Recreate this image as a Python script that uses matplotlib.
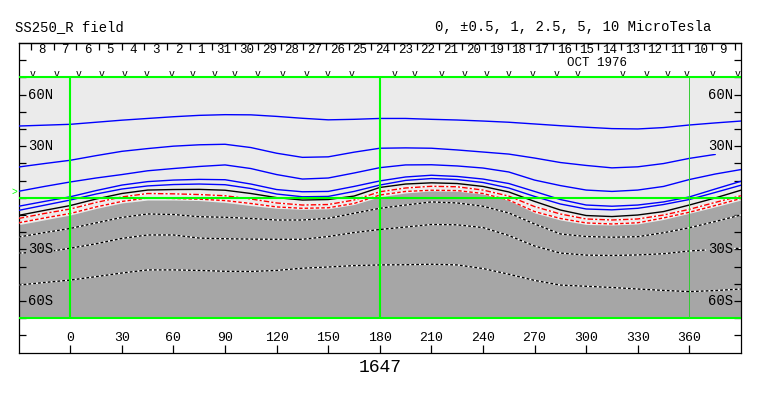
import matplotlib
matplotlib.use('Agg')
import matplotlib.pyplot as plt
import matplotlib.transforms as mtransforms
import numpy as np

plt.rcParams['font.family'] = ['Liberation Mono', 'DejaVu Sans Mono']

# Carrington rotation 1647, source surface field (latitude of each contour)
lon = np.arange(-30, 391, 15)

pos_10 = [41.7, 42.2, 42.7, 43.9, 45.1, 46.1, 47.1, 47.9, 48.3, 48.2, 47.3, 46.2, 45.3, 45.6, 46.1,
          46.1, 45.6, 45.2, 44.6, 43.9, 42.9, 41.9, 41.0, 40.2, 40.0, 40.8, 42.3, 43.5, 44.6]
pos_5 = [17.9, 19.9, 21.8, 24.5, 27.0, 28.6, 30.0, 30.8, 31.1, 29.2, 25.9, 23.5, 23.8, 26.5, 28.8,
         29.0, 28.8, 27.8, 26.6, 25.4, 23.1, 20.5, 18.8, 17.4, 18.0, 19.9, 22.9, 25.2, np.nan]
pos_2_5 = [3.8, 6.6, 9.2, 11.5, 13.5, 15.7, 17.0, 18.2, 19.1, 17.0, 13.5, 10.9, 11.5, 14.4, 17.5,
           19.1, 19.2, 18.5, 17.3, 15.0, 10.3, 7.1, 4.5, 3.7, 4.5, 6.6, 10.6, 13.8, 16.4]
pos_1 = [-4.9, -2.1, 0.6, 4.2, 7.4, 9.4, 10.3, 10.7, 10.5, 8.0, 4.8, 3.5, 3.7, 6.6, 9.8,
         12.1, 13.1, 12.4, 10.9, 8.3, 3.7, -1.0, -4.2, -4.9, -4.2, -2.4, 0.5, 5.1, 9.6]
pos_0_5 = [-7.3, -4.3, -1.3, 2.2, 5.1, 6.9, 7.7, 8.0, 7.6, 5.4, 2.2, 0.6, 0.8, 3.7, 7.4,
           10.1, 11.2, 10.6, 8.9, 5.7, 0.8, -3.6, -6.5, -7.0, -6.1, -3.9, -1.0, 3.1, 7.3]
neutral = [-10.2, -7.3, -4.5, -0.7, 2.5, 4.5, 4.8, 4.9, 4.4, 2.5, 0.1, -1.3, -1.0, 1.0, 6.0,
           8.0, 8.7, 8.3, 6.6, 3.4, -2.1, -7.1, -10.3, -10.9, -10.0, -8.0, -4.2, -0.1, 4.4]
neg_0_5 = [-12.0, -9.1, -6.5, -2.7, 0.5, 2.5, 2.3, 1.9, 1.2, -0.7, -3.0, -4.2, -3.9, -1.3, 3.5,
           5.7, 6.7, 6.4, 4.5, 1.0, -5.1, -9.4, -12.3, -12.9, -12.3, -10.0, -6.7, -2.7, 1.2]
neg_1 = [-14.5, -11.7, -9.1, -5.3, -2.1, -0.1, -0.4, -0.8, -1.6, -3.3, -5.3, -6.1, -5.8, -3.3, 1.6,
         3.7, 4.4, 4.2, 2.5, -1.3, -8.0, -12.0, -14.6, -15.2, -14.5, -11.7, -8.4, -4.5, -0.4]
neg_edge = [-15.6, -12.8, -10.0, -6.2, -3.0, -1.3, -1.3, -1.6, -2.7, -4.5, -6.1, -6.7, -6.4, -3.9, 0.6,
            2.8, 4.0, 3.8, 2.2, -1.3, -8.8, -12.9, -15.5, -15.8, -15.2, -12.6, -9.0, -5.3, -1.3]
neg_2_5 = [-22.8, -20.2, -17.8, -14.6, -11.4, -9.4, -9.7, -11.0, -11.3, -12.0, -12.9, -12.9, -11.9, -9.0, -6.1,
           -4.2, -2.4, -3.0, -4.9, -8.8, -15.2, -21.0, -22.5, -22.9, -22.6, -20.3, -17.4, -13.8, -10.0]
neg_5 = [-32.1, -31.6, -29.3, -26.7, -23.6, -21.6, -21.6, -23.4, -23.8, -24.0, -24.1, -24.1, -22.5, -20.2, -18.4,
         -17.0, -15.5, -15.7, -17.3, -21.9, -28.0, -32.1, -33.3, -33.5, -33.2, -32.5, -30.9, -30.0, -29.3]
neg_10 = [-50.7, -49.2, -47.8, -45.8, -43.7, -41.9, -41.9, -42.2, -42.7, -42.8, -42.2, -40.9, -40.2, -39.4, -39.0,
          -38.9, -38.6, -39.0, -41.1, -44.4, -48.0, -50.7, -51.4, -52.1, -53.0, -53.8, -54.5, -53.9, -53.0]

# dates along the top (day boundaries every solar day of rotation)
days = [8, 7, 6, 5, 4, 3, 2, 1, 31, 30, 29, 28, 27, 26, 25, 24, 23, 22, 21, 20,
        19, 18, 17, 16, 15, 14, 13, 12, 11, 10, 9]
first_day_edge = -22.9
deg_per_day = 13.2

# observation marks
obs_lon = [-21.7, -7.7, 5.1, 18.4, 31.8, 44.6, 59.1, 71.4, 84.1, 95.7, 109.2, 123.7, 137.7, 149.9, 163.8,
           188.9, 200.5, 216.2, 229.6, 242.4, 255.1, 269.1, 283.0, 295.2, 321.4, 335.4, 347.6, 358.6,
           373.8, 387.8]
b0_angle = 3.4

lon_ticks = list(range(0, 361, 30))
lat_labels = [(60, '60N'), (30, '30N'), (-30, '30S'), (-60, '60S')]

light = '#ebebeb'
dark = '#a6a6a6'
green = '#00ff00'

fig = plt.figure(figsize=(7.63, 3.96), dpi=100)
ax = fig.add_axes([18.7 / 763, 43.3 / 396, 722.2 / 763, 309.8 / 396])
ax.set_xlim(-30, 390)
ax.set_ylim(-90, 90)

ax.axhspan(-70, 70, color=light, lw=0, zorder=0)
ax.fill_between(lon, neg_edge, -70, color=dark, lw=0, zorder=1)

for y in [pos_10, pos_5, pos_2_5, pos_1, pos_0_5]:
    ax.plot(lon, y, color='#0000ff', lw=1.0, zorder=3)
ax.plot(lon, neutral, color='black', lw=1.0, zorder=3)
ax.plot(lon, neg_0_5, color='white', lw=1.0, zorder=3)
ax.plot(lon, neg_0_5, color='#ff0000', lw=1.0, dashes=(4, 1.5, 1.5, 1.5), zorder=3)
ax.plot(lon, neg_1, color='white', lw=1.0, zorder=3)
ax.plot(lon, neg_1, color='#ff0000', lw=1.0, dashes=(2.5, 1.5), zorder=3)
for y in [neg_2_5, neg_5, neg_10]:
    ax.plot(lon, y, color='white', lw=1.0, zorder=3)
    ax.plot(lon, y, color='black', lw=1.0, dashes=(2, 1.5), zorder=3)

ax.hlines([-70, 0, 70], -30, 390, color=green, lw=1.5, zorder=5)
ax.vlines([0, 180], -70, 70, color=green, lw=1.5, zorder=5)
ax.vlines([360], -70, 70, color='#33cc33', lw=0.7, zorder=5)

for s in ax.spines.values():
    s.set_linewidth(0.9)
ax.set_xticks(lon_ticks)
ax.set_yticks(range(-80, 81, 10))
ax.tick_params(axis='x', direction='in', length=5.8, width=0.9, labelbottom=False)
ax.tick_params(axis='y', direction='in', length=5, width=0.9, left=True, right=True,
               labelleft=False, labelright=False)

edges = first_day_edge + deg_per_day * np.arange(len(days) + 1)
sec = ax.secondary_xaxis('top')
sec.set_xticks(edges)
sec.set_xticklabels([])
sec.tick_params(direction='in', length=5, width=0.9)
sec.spines['top'].set_linewidth(0.9)

for i, d in enumerate(days):
    ax.text(edges[i] + deg_per_day / 2, 85.9, str(d), ha='center', va='center', fontsize=9)
ax.text(306.3, 78.6, 'OCT 1976', ha='center', va='center', fontsize=9)
for x in obs_lon:
    ax.text(x, 72.2, 'v', ha='center', va='center', fontsize=7)

for x in lon_ticks:
    ax.text(x, -81.2, str(x), ha='center', va='center', fontsize=9.5)

trans = mtransforms.blended_transform_factory(ax.transAxes, ax.transData)
for lat, txt in lat_labels:
    face = light if lat > 0 else dark
    box = dict(facecolor=face, edgecolor='none', pad=0.5)
    ax.text(0.0125, lat, txt, transform=trans, ha='left', va='center', fontsize=10, bbox=box, zorder=6)
    ax.text(0.9895, lat, txt, transform=trans, ha='right', va='center', fontsize=10, bbox=box, zorder=6)

ax.text(-32.2, b0_angle, '>', color=green, ha='center', va='center', fontsize=7, clip_on=False)

fig.text(15 / 763, 1 - 27 / 396, 'SS250_R field', ha='left', va='center', fontsize=10)
fig.text(711 / 763, 1 - 27 / 396, '0, \u00b10.5, 1, 2.5, 5, 10 MicroTesla', ha='right', va='center', fontsize=10)
fig.text(380 / 763, 1 - 367 / 396, '1647', ha='center', va='center', fontsize=13)

fig.savefig('out.png', dpi=100)
